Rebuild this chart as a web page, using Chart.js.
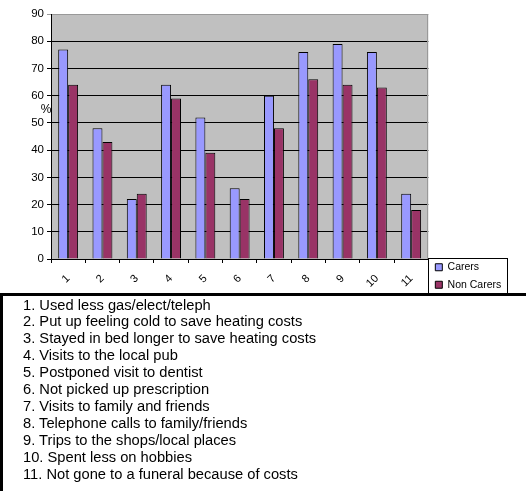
<!DOCTYPE html>
<html>
<head>
<meta charset="utf-8">
<script src="https://cdn.jsdelivr.net/npm/chart.js@4.4.0/dist/chart.umd.min.js"></script>
<style>
  html, body { margin: 0; padding: 0; background: #fff; }
  body { width: 526px; height: 491px; position: relative; overflow: hidden; font-family: Arial, "Liberation Sans", sans-serif; }
  #chart_wrap { position: absolute; left: 0; top: 0; width: 526px; height: 297px; }
  #key_box { position: absolute; left: 0; top: 293px; width: 526px; height: 198px; box-sizing: border-box;
             border-top: 3px solid #000; border-left: 3px solid #000; background: transparent; }
  #key_box ol { list-style: none; margin: 0; padding: 0.5px 0 0 20px; font-size: 14.7px; line-height: 16.9px; color: #000; }
</style>
</head>
<body>
<div id="chart_wrap"><canvas id="cost_chart" width="526" height="297"></canvas></div>
<div id="key_box"><ol id="key_list"></ol></div>
<script>
const categories = ['1', '2', '3', '4', '5', '6', '7', '8', '9', '10', '11'];
const carers     = [77, 48, 22, 64, 52, 26, 60, 76, 79, 76, 24];
const nonCarers  = [64, 43, 24, 59, 39, 22, 48, 66, 64, 63, 18];
const seriesNames = ['Carers', 'Non Carers'];
const yMax = 90, yStep = 10;
const descriptions = [
  'Used less gas/elect/teleph',
  'Put up feeling cold to save heating costs',
  'Stayed in bed longer to save heating costs',
  'Visits to the local pub',
  'Postponed visit to dentist',
  'Not picked up prescription',
  'Visits to family and friends',
  'Telephone calls to family/friends',
  'Trips to the shops/local places',
  'Spent less on hobbies',
  'Not gone to a funeral because of costs'
];

// numbered key under the chart
descriptions.forEach(function (d, i) {
  let li = document.createElement('li');
  li.textContent = categories[i] + '. ' + d;
  document.getElementById('key_list').appendChild(li);
});

const FONT = 'Arial, "Liberation Sans", sans-serif';

// grey plot area, its right edge, the % label and a box round the legend
const chartDecor = {
  id: 'chartDecor',
  beforeDraw(chart) {
    let a = chart.chartArea, ctx = chart.ctx;
    ctx.save();
    ctx.fillStyle = '#c0c0c0';
    ctx.fillRect(a.left, a.top, a.right - a.left, a.bottom - a.top);
    ctx.restore();
  },
  beforeDatasetsDraw(chart) {
    let a = chart.chartArea, ctx = chart.ctx;
    let x = Math.round(a.right) - 0.5;
    ctx.save();
    ctx.strokeStyle = '#999';
    ctx.lineWidth = 1;
    ctx.beginPath();
    ctx.moveTo(x, a.top);
    ctx.lineTo(x, a.bottom);
    ctx.stroke();
    ctx.restore();
  },
  afterDraw(chart) {
    let ctx = chart.ctx, y = chart.scales.y;
    ctx.save();
    ctx.fillStyle = '#000';
    ctx.font = '12px ' + FONT;
    ctx.textAlign = 'center';
    ctx.textBaseline = 'middle';
    ctx.fillText('%', y.right - 5, y.getPixelForValue(54.7));

    let hb = chart.legend.legendHitBoxes;
    if (hb && hb.length) {
      let left = hb[0].left - 7;
      let right = Math.max.apply(null, hb.map(h => h.left + h.width)) + 6;
      let top = hb[0].top - 4;
      let bottom = hb[hb.length - 1].top + hb[hb.length - 1].height + 3;
      ctx.strokeStyle = '#000';
      ctx.lineWidth = 1;
      ctx.strokeRect(Math.round(left) + 0.5, Math.round(top) + 0.5, Math.round(right - left), Math.round(bottom - top));
    }
    ctx.restore();
  }
};

let costChart = new Chart(document.getElementById('cost_chart'), {
  type: 'bar',
  data: {
    labels: categories,
    datasets: [
      { label: seriesNames[0], data: carers, backgroundColor: '#9999ff', borderColor: '#000', borderWidth: 1 },
      { label: seriesNames[1], data: nonCarers, backgroundColor: '#993366', borderColor: '#000', borderWidth: 1 }
    ]
  },
  options: {
    responsive: false,
    animation: false,
    layout: { padding: { top: 14, right: 14.75, bottom: 0, left: 0 } },
    datasets: { bar: { categoryPercentage: 0.58, barPercentage: 1 } },
    plugins: {
      tooltip: { enabled: false },
      legend: {
        position: 'right',
        align: 'end',
        labels: {
          boxWidth: 7, boxHeight: 7, padding: 7, color: '#000',
          font: { family: FONT, size: 10.5 }
        }
      }
    },
    scales: {
      x: {
        afterFit: function (s) { s.height = 38; },
        border: { color: '#000', width: 1 },
        grid: { drawOnChartArea: false, drawTicks: true, tickLength: 4, color: '#000' },
        ticks: { color: '#000', minRotation: 45, maxRotation: 45, padding: 9, font: { family: FONT, size: 11 } }
      },
      y: {
        min: 0, max: yMax,
        afterFit: function (s) { s.width = 51; },
        border: { color: '#000', width: 1 },
        grid: {
          tickLength: 4,
          color: function (c) { return c.tick.value === yMax ? '#999' : '#000'; }
        },
        ticks: { stepSize: yStep, color: '#000', padding: 3, font: { family: FONT, size: 11.5 } }
      }
    }
  },
  plugins: [chartDecor]
});
</script>
</body>
</html>
